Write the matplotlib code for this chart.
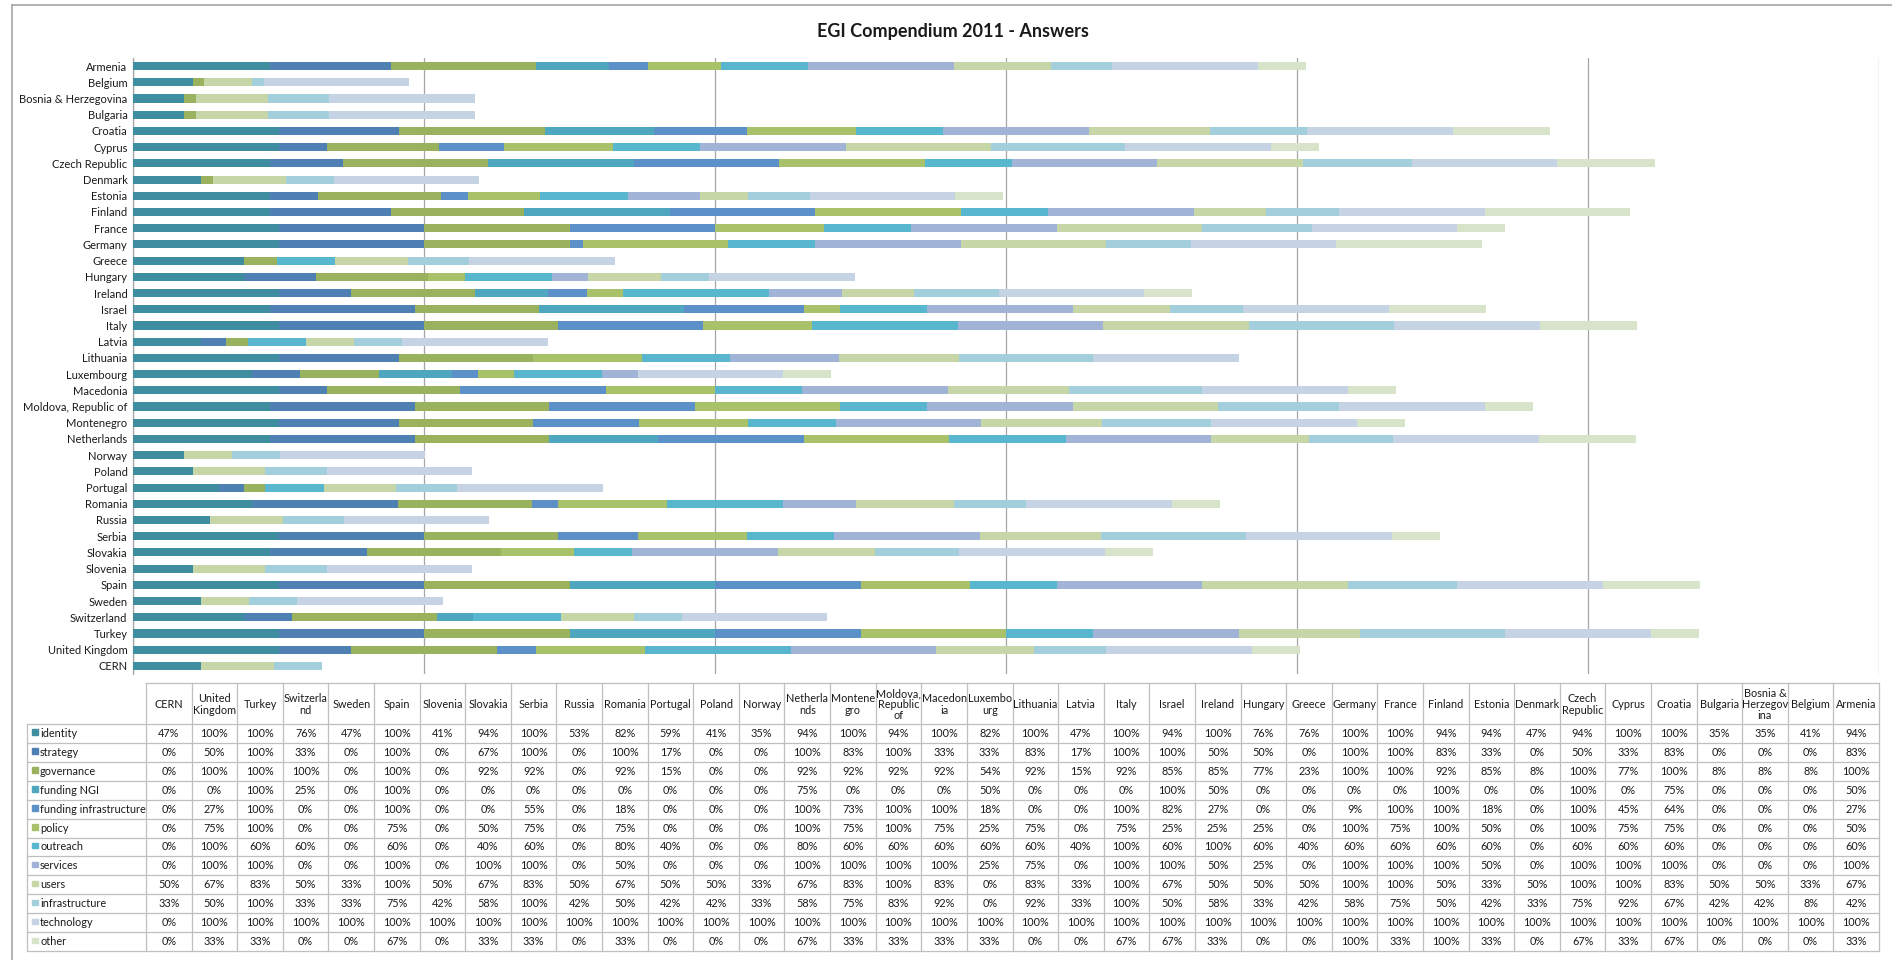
import matplotlib.pyplot as plt
from matplotlib.patches import Rectangle
from matplotlib.lines import Line2D
import numpy as np

plt.rcParams['font.family'] = ['Lato', 'DejaVu Sans']

# categories in sheet order (first one sits at the bottom of the bar chart)
countries = ['CERN', 'United Kingdom', 'Turkey', 'Switzerland', 'Sweden', 'Spain', 'Slovenia',
             'Slovakia', 'Serbia', 'Russia', 'Romania', 'Portugal', 'Poland', 'Norway',
             'Netherlands', 'Montenegro', 'Moldova, Republic of', 'Macedonia', 'Luxembourg',
             'Lithuania', 'Latvia', 'Italy', 'Israel', 'Ireland', 'Hungary', 'Greece', 'Germany',
             'France', 'Finland', 'Estonia', 'Denmark', 'Czech Republic', 'Cyprus', 'Croatia',
             'Bulgaria', 'Bosnia & Herzegovina', 'Belgium', 'Armenia']
table_headers = ['CERN', 'United\nKingdom', 'Turkey', 'Switzerla\nnd', 'Sweden', 'Spain', 'Slovenia',
                 'Slovakia', 'Serbia', 'Russia', 'Romania', 'Portugal', 'Poland', 'Norway',
                 'Netherla\nnds', 'Montene\ngro', 'Moldova,\nRepublic\nof', 'Macedon\nia',
                 'Luxembo\nurg', 'Lithuania', 'Latvia', 'Italy', 'Israel', 'Ireland', 'Hungary',
                 'Greece', 'Germany', 'France', 'Finland', 'Estonia', 'Denmark', 'Czech\nRepublic',
                 'Cyprus', 'Croatia', 'Bulgaria', 'Bosnia &\nHerzegov\nina', 'Belgium', 'Armenia']

series = ['identity', 'strategy', 'governance', 'funding NGI', 'funding infrastructure', 'policy',
          'outreach', 'services', 'users', 'infrastructure', 'technology', 'other']

identity = [47, 100, 100, 76, 47, 100, 41, 94, 100, 53, 82, 59, 41, 35, 94, 100, 94, 100, 82,
            100, 47, 100, 94, 100, 76, 76, 100, 100, 94, 94, 47, 94, 100, 100, 35, 35, 41, 94]
strategy = [0, 50, 100, 33, 0, 100, 0, 67, 100, 0, 100, 17, 0, 0, 100, 83, 100, 33, 33,
            83, 17, 100, 100, 50, 50, 0, 100, 100, 83, 33, 0, 50, 33, 83, 0, 0, 0, 83]
governance = [0, 100, 100, 100, 0, 100, 0, 92, 92, 0, 92, 15, 0, 0, 92, 92, 92, 92, 54,
              92, 15, 92, 85, 85, 77, 23, 100, 100, 92, 85, 8, 100, 77, 100, 8, 8, 8, 100]
funding_ngi = [0, 0, 100, 25, 0, 100, 0, 0, 0, 0, 0, 0, 0, 0, 75, 0, 0, 0, 50,
               0, 0, 0, 100, 50, 0, 0, 0, 0, 100, 0, 0, 100, 0, 75, 0, 0, 0, 50]
funding_infra = [0, 27, 100, 0, 0, 100, 0, 0, 55, 0, 18, 0, 0, 0, 100, 73, 100, 100, 18,
                 0, 0, 100, 82, 27, 0, 0, 9, 100, 100, 18, 0, 100, 45, 64, 0, 0, 0, 27]
policy = [0, 75, 100, 0, 0, 75, 0, 50, 75, 0, 75, 0, 0, 0, 100, 75, 100, 75, 25,
          75, 0, 75, 25, 25, 25, 0, 100, 75, 100, 50, 0, 100, 75, 75, 0, 0, 0, 50]
outreach = [0, 100, 60, 60, 0, 60, 0, 40, 60, 0, 80, 40, 0, 0, 80, 60, 60, 60, 60,
            60, 40, 100, 60, 100, 60, 40, 60, 60, 60, 60, 0, 60, 60, 60, 0, 0, 0, 60]
services = [0, 100, 100, 0, 0, 100, 0, 100, 100, 0, 50, 0, 0, 0, 100, 100, 100, 100, 25,
            75, 0, 100, 100, 50, 25, 0, 100, 100, 100, 50, 0, 100, 100, 100, 0, 0, 0, 100]
users = [50, 67, 83, 50, 33, 100, 50, 67, 83, 50, 67, 50, 50, 33, 67, 83, 100, 83, 0,
         83, 33, 100, 67, 50, 50, 50, 100, 100, 50, 33, 50, 100, 100, 83, 50, 50, 33, 67]
infrastructure = [33, 50, 100, 33, 33, 75, 42, 58, 100, 42, 50, 42, 42, 33, 58, 75, 83, 92, 0,
                  92, 33, 100, 50, 58, 33, 42, 58, 75, 50, 42, 33, 75, 92, 67, 42, 42, 8, 42]
technology = [0] + [100] * 37
other = [0, 33, 33, 0, 0, 67, 0, 33, 33, 0, 33, 0, 0, 0, 67, 33, 33, 33, 33,
         0, 0, 67, 67, 33, 0, 0, 100, 33, 100, 33, 0, 67, 33, 67, 0, 0, 0, 33]

values = [identity, strategy, governance, funding_ngi, funding_infra, policy,
          outreach, services, users, infrastructure, technology, other]
colors = ['#3E8EA0', '#4E80B4', '#9AB25D', '#4FA7BF', '#5C90C8', '#A9C26A',
          '#58B7CF', '#A1B3D6', '#C6D6A7', '#A2CFDB', '#C5D3E4', '#D8E4CA']

W, H = 1892, 960
fig = plt.figure(figsize=(W / 100, H / 100), dpi=100)


def box(l, t, r, b):
    return [l / W, 1 - b / H, (r - l) / W, (b - t) / H]


# chart frame (right and bottom edges fall outside the image)
fig.add_artist(Line2D([12 / W, 1], [1 - 5 / H, 1 - 5 / H], color='#A6A6A6', lw=1.2))
fig.add_artist(Line2D([12 / W, 12 / W], [0, 1 - 5 / H], color='#A6A6A6', lw=1.2))

fig.text(953 / W, 1 - 32 / H, 'EGI Compendium 2011 - Answers', ha='center', va='center',
         fontsize=13, fontweight='bold', color='#1a1a1a')

# stacked bars
ax = fig.add_axes(box(133, 58, 1879, 674))
y = np.arange(len(countries))
left = np.zeros(len(countries))
for name, vals, col in zip(series, values, colors):
    vals = np.array(vals, dtype=float)
    ax.barh(y, vals, left=left, height=0.5, color=col, edgecolor='none', zorder=3, label=name)
    left += vals
ax.set_xlim(0, 1200)
ax.set_ylim(-0.5, len(countries) - 0.5)
ax.set_xticks(range(0, 1201, 200))
ax.xaxis.grid(True, color='#A6A6A6', lw=0.9)
ax.tick_params(axis='x', length=0, labelbottom=False)
ax.set_yticks(y, countries)
ax.tick_params(axis='y', length=0, pad=4, labelsize=8, labelcolor='#1a1a1a')
for s in ['top', 'right', 'bottom']:
    ax.spines[s].set_visible(False)
ax.spines['left'].set_color('#A6A6A6')
ax.spines['left'].set_linewidth(0.9)

# data table
tax = fig.add_axes(box(27, 683, 1879, 951))
tax.set_xlim(27, 1879)
tax.set_ylim(951, 683)
tax.axis('off')
lc = '#BFBFBF'
x0, x1 = 146, 1879
cw = (x1 - x0) / len(countries)
h_top, h_bot = 683, 724
rh = (951 - h_bot) / len(series)
for k in range(len(countries) + 1):
    tax.plot([x0 + k * cw] * 2, [h_top, 951], color=lc, lw=0.9, clip_on=False)
tax.plot([27, 27], [h_bot, 951], color=lc, lw=0.9, clip_on=False)
tax.plot([x0, x1], [h_top, h_top], color=lc, lw=0.9, clip_on=False)
for j in range(len(series) + 1):
    tax.plot([27, x1], [h_bot + j * rh] * 2, color=lc, lw=0.9, clip_on=False)

for k, hd in enumerate(table_headers):
    tax.text(x0 + (k + 0.5) * cw, (h_top + h_bot) / 2 + 1, hd, ha='center', va='center',
             fontsize=7.8, linespacing=1.0, color='#1a1a1a')

for j, (name, vals, col) in enumerate(zip(series, values, colors)):
    yc = h_bot + (j + 0.5) * rh
    tax.add_patch(Rectangle((32, yc - 4), 5.5, 5.5, color=col, clip_on=False))
    tax.text(40, yc, name, ha='left', va='center', fontsize=7.8, color='#1a1a1a')
    for k, v in enumerate(vals):
        tax.text(x0 + (k + 0.5) * cw, yc, f'{v}%', ha='center', va='center',
                 fontsize=7.8, color='#1a1a1a')

fig.savefig('out.png', dpi=100)
